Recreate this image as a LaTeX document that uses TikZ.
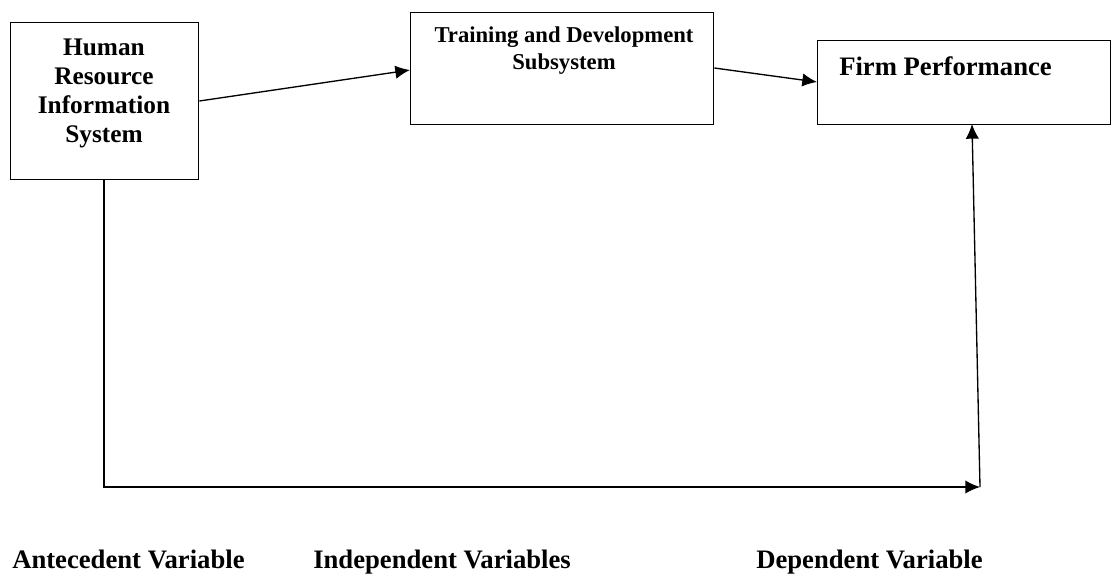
\documentclass[tikz,border=0pt]{standalone}
\usepackage{fontspec}
\setmainfont{Liberation Serif}
\usepackage{tikz}
\usetikzlibrary{arrows.meta}
\usetikzlibrary{positioning}

\begin{document}
\begin{tikzpicture}[x=0.75pt,y=-0.75pt]
\tikzstyle{box}=[rectangle, draw=black, line width=1pt, inner sep=0pt, anchor=north west]
\tikzstyle{txt}=[inner sep=0pt, font=\bfseries, align=center]
\tikzstyle{connect}=[-{Latex[length=11pt,width=10pt]}, line width=1pt]
\tikzstyle{varlabel}=[inner sep=0pt, anchor=base west, font=\fontsize{20}{24}\selectfont\bfseries]
  \useasboundingbox (0,0) rectangle (1117,575);
  % boxes
  \node[box, minimum width=141pt, minimum height=117.75pt] (hris) at (10,22) {};
  \node[box, minimum width=227.25pt, minimum height=84pt] (train) at (410,12) {};
  \node[box, minimum width=219.75pt, minimum height=63pt] (firm) at (817,40) {};
  % box texts
  \node[txt, anchor=north, font=\fontsize{19}{21.75}\selectfont\bfseries] (hrist) at (104,39)
    {Human\\Resource\\Information\\System};
  \node[txt, anchor=north, font=\fontsize{17}{20.25}\selectfont\bfseries] (traint) at (564,27)
    {Training and Development\\Subsystem};
  \node[txt, anchor=west, font=\fontsize{20}{24}\selectfont\bfseries] (firmt) at (839,66) {Firm Performance};
  % links
  \coordinate (cnr) at (980,487);
  \draw[connect] (hris.east |- 0,101) -- (train.west |- 0,70);
  \draw[connect] (train.east |- 0,68) -- (firm.west |- 0,82);
  \draw[connect] (hris.south -| 104,0) |- (cnr);
  \draw[connect] (cnr) -- (972,124);
  % captions
  \node[varlabel] (ante) at (12,568) {Antecedent Variable};
  \node[varlabel] (indep) at (313,568) {Independent Variables};
  \node[varlabel] (dep) at (756,568) {Dependent Variable};
\end{tikzpicture}
\end{document}
